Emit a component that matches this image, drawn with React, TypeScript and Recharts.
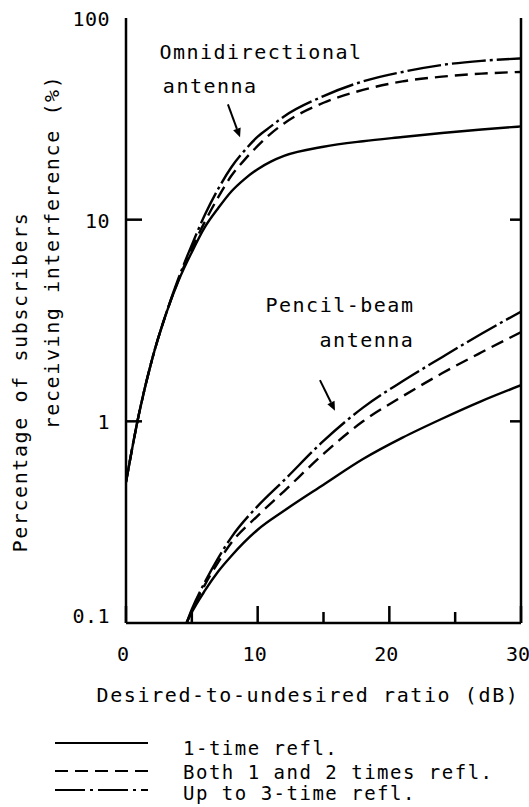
import React from 'react';
import {
  LineChart,
  Line,
  XAxis,
  YAxis,
  ReferenceDot,
  ReferenceLine
} from 'recharts';

// desired-to-undesired ratio (dB)
const omniX = [0, 1, 2, 3, 4, 5, 6, 7, 8, 9, 10, 11, 12, 15, 18, 21, 24, 27, 30];
const omniOne = [0.5, 1.1, 2.05, 3.35, 5.0, 6.9, 9.2, 11.4, 13.8, 15.9, 17.8, 19.4, 20.7, 23, 24.5, 25.7, 26.9, 28, 29];
const omniTwo = [0.5, 1.1, 2.05, 3.35, 5.05, 7.2, 9.8, 12.9, 16.5, 19.8, 23.2, 26.7, 30, 38, 44, 48.5, 51.2, 53, 54];
const omniThree = [0.5, 1.1, 2.05, 3.35, 5.15, 7.5, 10.6, 14.2, 18.2, 22, 25.8, 29, 32.5, 41, 48.5, 54, 58.5, 61.3, 63];

const pencilX = [4.6, 5, 6, 7, 8, 10, 12, 15, 18, 21, 24, 27, 30];
const pencilOne = [0.1, 0.113, 0.145, 0.18, 0.215, 0.29, 0.36, 0.485, 0.65, 0.83, 1.03, 1.26, 1.51];
const pencilTwo = [0.1, 0.115, 0.155, 0.2, 0.25, 0.34, 0.45, 0.69, 1.0, 1.33, 1.73, 2.2, 2.77];
const pencilThree = [0.1, 0.117, 0.16, 0.21, 0.266, 0.38, 0.51, 0.8, 1.17, 1.58, 2.08, 2.72, 3.5];

const xTicks = [0, 5, 10, 15, 20, 25, 30];
const yTicks = [0.1, 1, 10, 100];
const rightTicks = [1, 10];

const legendLabels = ['1-time refl.', 'Both 1 and 2 times refl.', 'Up to 3-time refl.'];

const notes = [
  { text: 'Omnidirectional', x: 10.25, y: 68 },
  { text: 'antenna', x: 6.4, y: 46 },
  { text: 'Pencil-beam', x: 16.25, y: 3.78 },
  { text: 'antenna', x: 18.3, y: 2.53 },
];

const arrows = [
  { from: { x: 7.74, y: 37.3 }, to: { x: 8.66, y: 25.6 } },
  { from: { x: 14.73, y: 1.6 }, to: { x: 15.87, y: 1.13 } },
];

const toPoints = (xs: number[], vs: number[]) => xs.map((x, i) => ({ x, v: vs[i] }));

const FONT = "'DejaVu Sans Mono', monospace";
const INK = '#000';
const DASH2 = '13 7';
const DASH3 = '34 4 3 4';

function BottomTick(props: any) {
  const { x, y, payload } = props;
  const v = payload.value;
  const major = v % 10 === 0;
  return (
    <g>
      <line x1={x} x2={x} y1={y} y2={y - (major ? 17 : 11)} stroke={INK} strokeWidth={2.5} />
      {major && (
        <text x={x - 3} y={y + 31} textAnchor="middle" dominantBaseline="central"
          fontFamily={FONT} fontSize={20} fill={INK}>{v}</text>
      )}
    </g>
  );
}

function LeftTick(props: any) {
  const { x, y, payload } = props;
  const v = payload.value;
  return (
    <g>
      {(v === 1 || v === 10) && <line x1={x} x2={x + 16} y1={y} y2={y} stroke={INK} strokeWidth={2.5} />}
      <text x={x - 16} y={v === 0.1 ? y - 7 : y + 1} textAnchor="end" dominantBaseline="central"
        fontFamily={FONT} fontSize={20} letterSpacing={0.5} fill={INK}>{String(v)}</text>
    </g>
  );
}

function RightTick(props: any) {
  const { x, y } = props;
  return <line x1={x} x2={x - 11} y1={y} y2={y} stroke={INK} strokeWidth={2.5} />;
}

function Arrow(props: any) {
  const { x1, y1, x2, y2 } = props;
  const ang = Math.atan2(y2 - y1, x2 - x1);
  const len = 9;
  const w = 4;
  const bx = x2 - len * Math.cos(ang);
  const by = y2 - len * Math.sin(ang);
  const px = -Math.sin(ang) * w;
  const py = Math.cos(ang) * w;
  return (
    <g>
      <line x1={x1} y1={y1} x2={bx} y2={by} stroke={INK} strokeWidth={2} />
      <polygon points={`${x2},${y2} ${bx + px},${by + py} ${bx - px},${by - py}`} fill={INK} />
    </g>
  );
}

const noteLabel = (text: string) => (p: any) => {
  const vb = p.viewBox;
  return (
    <text x={vb.x + vb.width / 2} y={vb.y + vb.height / 2} textAnchor="middle" dominantBaseline="central"
      fontFamily={FONT} fontSize={20} letterSpacing={1.5} fill={INK}>{text}</text>
  );
};

const yTitle = () => (
  <g fontFamily={FONT} fontSize={20} letterSpacing={1.6} fill={INK}>
    <text x={20} y={382} transform="rotate(-90 20 382)" textAnchor="middle" dominantBaseline="central">
      Percentage of subscribers
    </text>
    <text x={52} y={252} transform="rotate(-90 52 252)" textAnchor="middle" dominantBaseline="central">
      receiving interference (%)
    </text>
  </g>
);

const xTitle = () => (
  <text x={308} y={695} textAnchor="middle" dominantBaseline="central"
    fontFamily={FONT} fontSize={20} letterSpacing={1.6} fill={INK}>
    Desired-to-undesired ratio (dB)
  </text>
);

function LegendBox() {
  const dashes = ['none', DASH2, '30 5 3 5'];
  const lineY = [13, 41, 60];
  const textY = [18, 42, 63];
  return (
    <svg width={529} height={77} style={{ position: 'absolute', left: 0, top: 730 }}>
      {legendLabels.map((t, i) => (
        <g key={t}>
          <line x1={55} x2={148} y1={lineY[i]} y2={lineY[i]} stroke={INK} strokeWidth={2.2}
            strokeDasharray={dashes[i] === 'none' ? undefined : dashes[i]} />
          <text x={183} y={textY[i]} dominantBaseline="central" fontFamily={FONT} fontSize={19}
            letterSpacing={1.5} fill={INK}>{t}</text>
        </g>
      ))}
    </svg>
  );
}

export default function App() {
  const series = [
    { data: toPoints(omniX, omniOne), dash: undefined },
    { data: toPoints(omniX, omniTwo), dash: DASH2 },
    { data: toPoints(omniX, omniThree), dash: DASH3 },
    { data: toPoints(pencilX, pencilOne), dash: undefined },
    { data: toPoints(pencilX, pencilTwo), dash: DASH2 },
    { data: toPoints(pencilX, pencilThree), dash: DASH3 },
  ];

  return (
    <div style={{ position: 'absolute', left: 0, top: 0, width: 529, height: 807, background: '#fff' }}>
      <LineChart width={529} height={807} margin={{ top: 18, right: 7, bottom: 154, left: 66 }}>
        <XAxis dataKey="x" type="number" domain={[0, 30]} ticks={xTicks} interval={0}
          allowDataOverflow height={30} tickSize={0} tickMargin={0} tickLine={false}
          axisLine={{ stroke: INK, strokeWidth: 2.5 }} tick={BottomTick}
          label={{ content: xTitle }} />
        <XAxis xAxisId="top" orientation="top" dataKey="x" type="number" domain={[0, 30]}
          height={0} tick={false} tickLine={false} axisLine={{ stroke: INK, strokeWidth: 2.5 }} />
        <YAxis type="number" scale="log" domain={[0.1, 100]} ticks={yTicks} interval={0}
          allowDataOverflow width={60} tickSize={0} tickMargin={0} tickLine={false}
          axisLine={{ stroke: INK, strokeWidth: 2.5 }} tick={LeftTick}
          label={{ content: yTitle }} />
        <YAxis yAxisId="right" orientation="right" type="number" scale="log" domain={[0.1, 100]}
          ticks={rightTicks} interval={0} allowDataOverflow width={1} tickSize={0} tickMargin={0}
          tickLine={false} axisLine={{ stroke: INK, strokeWidth: 2.5 }} tick={RightTick} />
        {series.map((s, i) => (
          <Line key={i} data={s.data} dataKey="v" type="monotone" stroke={INK} strokeWidth={2.4}
            strokeDasharray={s.dash} dot={false} activeDot={false} isAnimationActive={false} />
        ))}
        {notes.map((n, i) => (
          <ReferenceDot key={'n' + i} x={n.x} y={n.y} r={0} stroke="none" fill="none"
            label={{ content: noteLabel(n.text) }} />
        ))}
        {arrows.map((a, i) => (
          <ReferenceLine key={'a' + i} segment={[a.from, a.to]} stroke={INK} shape={Arrow} />
        ))}
      </LineChart>
      <LegendBox />
    </div>
  );
}
